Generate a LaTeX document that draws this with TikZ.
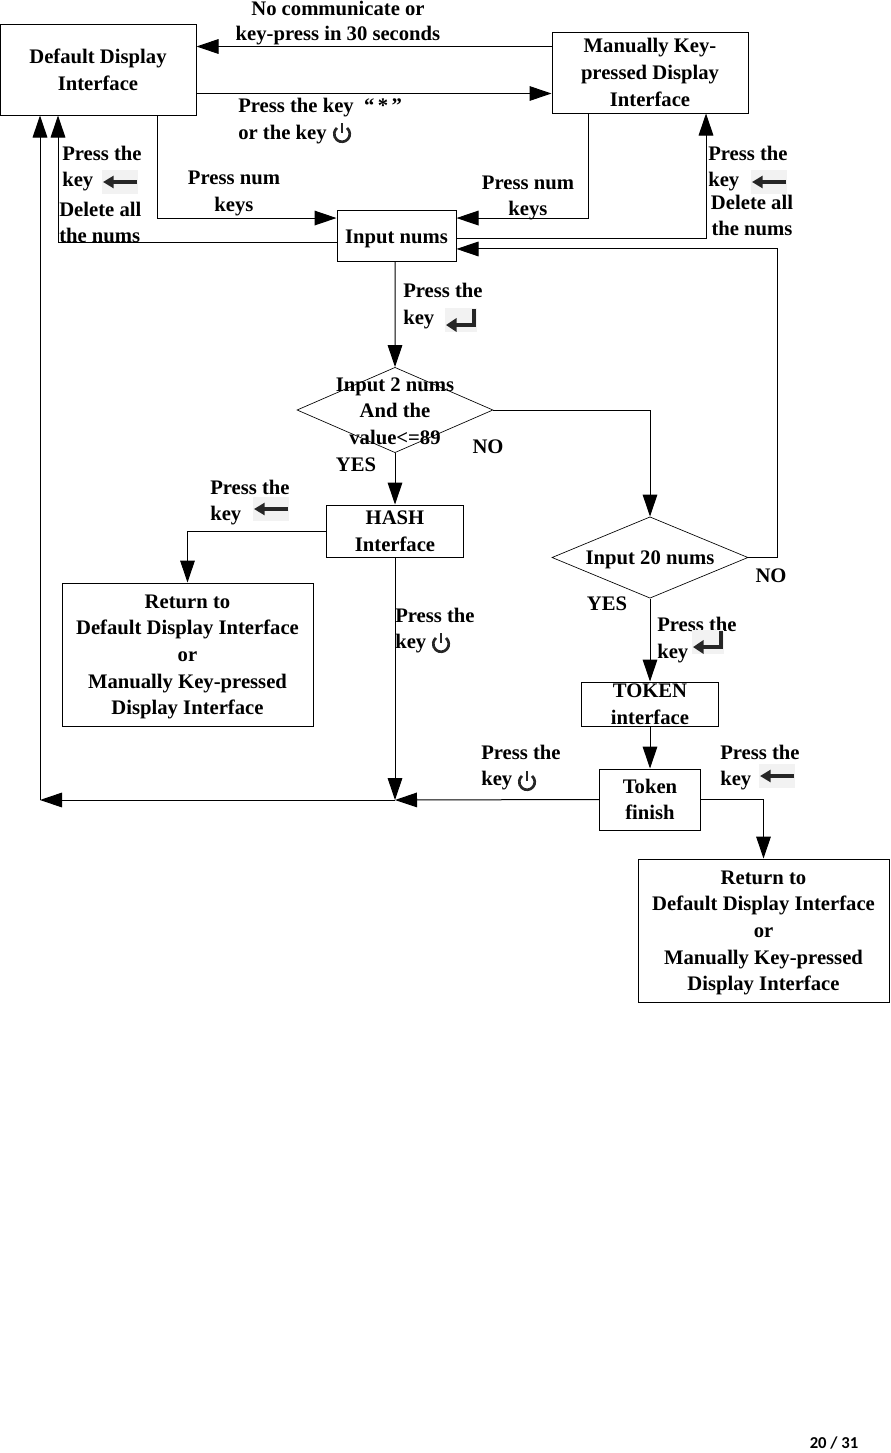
\documentclass[tikz,border=0pt]{standalone}
\usepackage{fontspec}
\setmainfont{Liberation Serif}
\newfontfamily\pagefont{Carlito}
\usetikzlibrary{arrows.meta,shapes.geometric}

\tikzset{
    backkey/.pic={
        \fill[black!5] (-18,-12) rectangle (18,12);
        \draw[line width=3.4pt, black!85, -{Triangle[length=8pt,width=9pt]}] (17,0) -- (-17,0);
    },
    enterkey/.pic={
        \fill[black!5] (-16,-12) rectangle (16,12);
        \draw[line width=3.4pt, black!85, -{Triangle[length=8pt,width=10pt]}] (13,-11) -- (13,5) -- (-15,5);
    },
    powerkey/.pic={
        \draw[line width=2pt, black!85] (5,-5) arc[start angle=-50, end angle=230, x radius=7.8, y radius=7.8];
        \draw[line width=2pt, black!85] (0,-10) -- (0,0);
    }
}

\begin{document}
\begin{tikzpicture}[
    x=0.75pt, y=-0.75pt,
    every node/.style={font=\bfseries\fontsize{15.5}{20}\selectfont, inner sep=0pt},
    block/.style={rectangle, draw, align=center, line width=0.75pt},
    lowered/.style={execute at begin node=\rule{0pt}{15pt}},
    decide/.style={diamond, draw, aspect=2.3, align=center, line width=0.5pt},
    txt/.style={align=center},
    lefttxt/.style={align=left, anchor=west},
    arrow/.style={-{Triangle[length=16.5pt,width=11pt]}, line width=0.75pt}
]
\useasboundingbox (0,0) rectangle (890,1453);

% Boxes
\node[block, minimum width=147pt, minimum height=68.25pt] (default) at (98,69.5) {Default Display\\Interface};
\node[block, minimum width=147pt, minimum height=60.75pt] (manual) at (650,72.5) {Manually Key-\\pressed Display\\Interface};
\node[block, lowered, minimum width=89.25pt, minimum height=38.25pt] (input) at (396.5,235.5) {Input nums};
\node[block, minimum width=102.75pt, minimum height=39pt] (hash) at (395,531) {HASH\\Interface};
\node[block, minimum width=188.25pt, minimum height=107.25pt] (backa) at (187.5,654.5) {};
\node[txt] (backatxt) at (187.5,657) {Return to\\Default Display Interface\\or\\Manually Key-pressed\\Display Interface};
\node[block, minimum width=102.75pt, minimum height=33pt] (token) at (650,704) {TOKEN\\interface};
\node[block, minimum width=75.75pt, minimum height=45.75pt] (finish) at (650,799.5) {Token\\finish};
\node[block, minimum width=188.25pt, minimum height=107.25pt] (backb) at (763.5,930.5) {};
\node[txt] (backbtxt) at (763.5,933) {Return to\\Default Display Interface\\or\\Manually Key-pressed\\Display Interface};

% Decisions
\node[decide, minimum width=147pt, minimum height=64pt] (twonums) at (395,410) {};
\node[txt] (twotxt) at (395,411) {Input 2 nums\\And the\\value<=89};
\node[decide, minimum width=147pt, minimum height=61pt] (twenty) at (650,557.5) {};
\node[txt] (twentytxt) at (650,560) {Input 20 nums};

% Junction on the bottom line
\coordinate (join) at (395,800);
\coordinate (leftend) at (40,800);

% Arrows
\draw[arrow] ([yshift=19.5pt]manual.west) -- ([yshift=17.25pt]default.east);
\draw[arrow] ([yshift=-18pt]default.east) -- ([yshift=-15.75pt]manual.west);
\draw[arrow] ([xshift=44.25pt]default.south) |- ([yshift=13.1pt]input.west);
\draw[arrow] (input.west) ++(0,6.5) -| ([xshift=-30pt]default.south);
\draw[arrow] ([xshift=-46.5pt]manual.south) |- ([yshift=13.1pt]input.east);
\draw[arrow] ([yshift=-2.25pt]input.east) -| ([xshift=42pt]manual.south);
\draw[arrow] (twenty.east) -- ++(29,0) |- ([yshift=-10.1pt]input.east);
\draw[arrow] ([xshift=-1.1pt]input.south) -- (twonums.north);
\draw[arrow] (twonums.east) -| (twenty.north);
\draw[arrow] (twonums.south) -- (hash.north);
\draw[arrow] (hash.west) -| (backa.north);
\draw[arrow] (hash.south) -- (join);
\draw[arrow] (twenty.south) -- (token.north);
\draw[arrow] (token.south) -- (finish.north);
\draw[arrow] (finish.west) -- (join);
\draw[arrow] (join) -- (leftend);
\draw[arrow] (leftend) -- ([xshift=-43.5pt]default.south);
\draw[arrow] (finish.east) -| (backb.north);

% Labels
\node[txt] (nocomm) at (338,23) {No communicate or\\[-1pt]key-press in 30 seconds};
\node[lefttxt] (star) at (238,121) {Press the key \ “\,*\,”\\or the key};
\node[lefttxt] (backl) at (62,168.5) {Press the\\key};
\node[lefttxt] (delall) at (59,222.5) {Delete all\\the nums};
\node[txt] (numl) at (234,193.5) {Press num\\keys};
\node[txt] (numr) at (528,198) {Press num\\keys};
\node[lefttxt] (backr) at (708,168.5) {Press the\\key};
\node[txt] (delallr) at (752,215.5) {Delete all\\the nums};
\node[lefttxt] (enterl) at (403,306) {Press the\\key};
\node[txt] (yesa) at (356,465) {YES};
\node[txt] (noa) at (488,447) {NO};
\node[lefttxt] (backh) at (210,502.5) {Press the\\key};
\node[lefttxt] (powerh) at (395,630.5) {Press the\\key};
\node[txt] (nob) at (771,576) {NO};
\node[txt] (yesb) at (607,604) {YES};
\node[lefttxt] (entert) at (657,640) {Press the\\key};
\node[lefttxt] (powerf) at (481,767.5) {Press the\\key};
\node[lefttxt] (backf) at (720,767.5) {Press the\\key};

% Key icons
\pic at (342,133) {powerkey};
\pic at (120,182) {backkey};
\pic at (769,182) {backkey};
\pic at (461,320) {enterkey};
\pic at (271,509) {backkey};
\pic at (441,643) {powerkey};
\pic at (708,642) {enterkey};
\pic at (527,781) {powerkey};
\pic at (777,776) {backkey};

% Page number
\node[font=\pagefont\bfseries\fontsize{12.5}{14}\selectfont] (pagenum) at (834,1443) {20 / 31};

\end{tikzpicture}
\end{document}
